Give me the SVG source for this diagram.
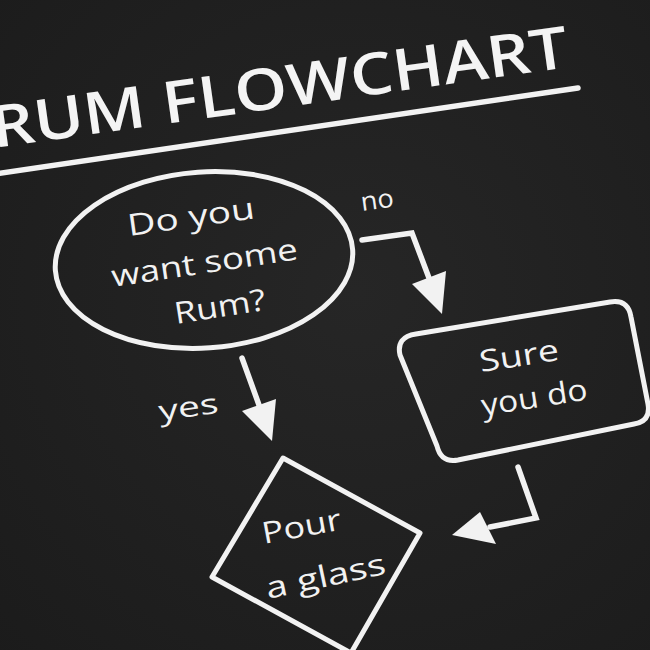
<svg xmlns="http://www.w3.org/2000/svg" width="650" height="650" viewBox="0 0 650 650">
  <defs>
    <radialGradient id="bg" cx="0.55" cy="0.45" r="0.8">
      <stop offset="0" stop-color="#262626"/>
      <stop offset="1" stop-color="#1b1b1b"/>
    </radialGradient>
  </defs>
  <style>
    .ln { fill: none; stroke: #f2f2f2; stroke-width: 5.5; stroke-linecap: round; stroke-linejoin: miter; }
    .shape { fill: none; stroke: #f2f2f2; stroke-width: 5; stroke-linejoin: round; }
    .head { fill: #f2f2f2; stroke: none; }
    .t { fill: #f2f2f2; font-family: "Open Sans", "DejaVu Sans", sans-serif; font-size: 30px; font-weight: 500; }
    .title { fill: #f4f4f4; font-family: "Open Sans", "DejaVu Sans", sans-serif; font-size: 58px; font-weight: 600; }
  </style>
  <rect x="0" y="0" width="650" height="650" fill="url(#bg)"/>

  <g id="title">
    <text class="title" transform="translate(-6,148) rotate(-8)" x="0" y="0" textLength="582" lengthAdjust="spacingAndGlyphs">RUM FLOWCHART</text>
    <line class="ln" x1="-5" y1="174" x2="578" y2="88"/>
  </g>

  <g id="question">
    <ellipse class="shape" cx="204" cy="260" rx="149" ry="88" transform="rotate(-4 204 260)"/>
    <text class="t" transform="translate(129,236) rotate(-8)" textLength="128" lengthAdjust="spacingAndGlyphs">Do you</text>
    <text class="t" transform="translate(113,287) rotate(-8.5)" textLength="188" lengthAdjust="spacingAndGlyphs">want some</text>
    <text class="t" transform="translate(176,324) rotate(-9)" textLength="92" lengthAdjust="spacingAndGlyphs">Rum?</text>
  </g>

  <g id="sure">
    <path class="shape" d="M416,334 L610,302 Q628,299 631,317 L648,404 Q651,421 634,424 L458,460 Q441,463 437,446 L400,355 Q396,337 416,334 Z"/>
    <text class="t" transform="translate(481,372) rotate(-8.7)" textLength="80" lengthAdjust="spacingAndGlyphs">Sure</text>
    <text class="t" transform="translate(483,416) rotate(-9)" textLength="107" lengthAdjust="spacingAndGlyphs">you do</text>
  </g>

  <g id="pour">
    <polygon class="shape" points="283,458 420,533 351,653 212,577"/>
    <text class="t" transform="translate(264,544) rotate(-10.5)" textLength="80" lengthAdjust="spacingAndGlyphs">Pour</text>
    <text class="t" transform="translate(268,599) rotate(-12)" textLength="122" lengthAdjust="spacingAndGlyphs">a glass</text>
  </g>

  <g id="connectors">
    <polyline class="ln" points="362,240 412,233 429,278"/>
    <polygon class="head" points="412,284 446,271 442,314"/>
    <text class="t" style="font-size:26px" transform="translate(362,211) rotate(-8)" textLength="33" lengthAdjust="spacingAndGlyphs">no</text>

    <line class="ln" x1="242" y1="358" x2="259" y2="405"/>
    <polygon class="head" points="242,411 276,399 272,441"/>
    <text class="t" style="font-size:28px" transform="translate(160,421) rotate(-8)" textLength="60" lengthAdjust="spacingAndGlyphs">yes</text>

    <polyline class="ln" points="518,467 536,518 490,527"/>
    <polygon class="head" points="480,512 496,544 452,535"/>
  </g>
</svg>
